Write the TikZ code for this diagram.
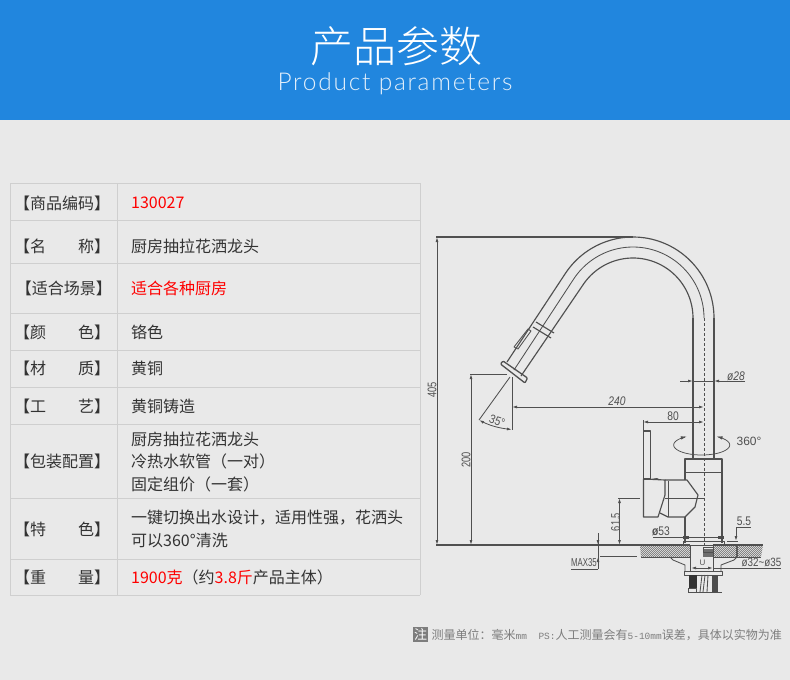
\documentclass[tikz,border=0pt]{standalone}
\usepackage{fontspec}
\usetikzlibrary{arrows.meta}
\setmainfont{Liberation Sans}
\newfontfamily\cjk{Noto Sans CJK SC}
\newfontfamily\cjklight[UprightFont=* Light]{Noto Sans CJK SC}
\newfontfamily\latlight[LetterSpace=7]{Lato Light}
\newfontfamily\mono{Liberation Mono}
\newcommand{\fsz}[1]{\fontsize{#1pt}{#1pt}\selectfont}
\definecolor{pagebg}{RGB}{233,233,233}
\definecolor{headblue}{RGB}{33,134,222}
\definecolor{rule}{RGB}{207,207,207}
\definecolor{ink}{RGB}{51,51,51}
\definecolor{cad}{RGB}{80,80,80}
\definecolor{hatchc}{RGB}{110,110,110}
\definecolor{redt}{RGB}{255,0,0}
\definecolor{note}{RGB}{125,125,125}
\tikzset{
 x=1pt,y=-1pt,
 tline/.style={draw=rule,line width=1pt},
 lab/.style={inner sep=0,text=ink,font=\cjk\fsz{16},anchor=center},
 val/.style={inner sep=0,text=ink,font=\cjk\fsz{16},anchor=west},
 part/.style={draw=cad,line width=0.85pt,line join=round},
 thick part/.style={draw=cad,line width=1.15pt,line join=round},
 dim/.style={draw=cad,line width=0.8pt},
 dimtip/.style={draw=cad,line width=0.8pt,{Latex[length=5pt,width=2.8pt]}-{Latex[length=5pt,width=2.8pt]}},
 endtip/.style={draw=cad,line width=0.8pt,-{Latex[length=5pt,width=2.8pt]}},
 cadtxt/.style={inner sep=0,text=cad,font=\itshape\fsz{12.5},xscale=0.82},
 cadup/.style={inner sep=0,text=cad,font=\fsz{12.5},xscale=0.82},
 cadrot/.style={inner sep=0,text=cad,font=\fsz{12.5},rotate=90,xscale=0.74},
}
\newcommand{\spreadlab}[2]{\makebox[96pt]{#1\hfill #2}}
\begin{document}
\begin{tikzpicture}
\fill[pagebg] (0,0) rectangle (790,680);
\useasboundingbox (0,0) rectangle (790,680);
\fill[headblue] (0,0) rectangle (790,120);
\node[inner sep=0,text=white,font=\cjklight\fsz{43}] (title) at (396,46) {产品参数};
\node[inner sep=0,text=white!88!headblue,font=\latlight\fsz{24.5}] (subtitle) at (395,84) {Product parameters};

% table
\foreach \yy in {183,220,263,313,350,387,424,498,559,595}{\draw[tline] (10,\yy) -- (420,\yy);}
\draw[tline] (10,183) -- (10,595);
\draw[tline] (117,183) -- (117,595);
\draw[tline] (420,183) -- (420,595);

\node[lab] (l1) at (62,203) {【商品编码】};
\node[lab] (l2) at (62,246) {\spreadlab{【名}{称】}};
\node[lab] (l3) at (64,288) {【适合场景】};
\node[lab] (l4) at (62,332) {\spreadlab{【颜}{色】}};
\node[lab] (l5) at (62,368) {\spreadlab{【材}{质】}};
\node[lab] (l6) at (62,406) {\spreadlab{【工}{艺】}};
\node[lab] (l7) at (62,461) {【包装配置】};
\node[lab] (l8) at (62,529) {\spreadlab{【特}{色】}};
\node[lab] (l9) at (62,577) {\spreadlab{【重}{量】}};

\node[val,text=redt] (v1) at (131,203) {130027};
\node[val] (v2) at (131,246) {厨房抽拉花洒龙头};
\node[val,text=redt] (v3) at (131,288) {适合各种厨房};
\node[val] (v4) at (131,332) {铬色};
\node[val] (v5) at (131,368) {黄铜};
\node[val] (v6) at (131,406) {黄铜铸造};
\node[val] (v7a) at (131,439) {厨房抽拉花洒龙头};
\node[val] (v7b) at (131,461) {冷热水软管（一对）};
\node[val] (v7c) at (131,484) {固定组价（一套）};
\node[val] (v8a) at (131,518) {一键切换出水设计，适用性强，花洒头};
\node[val] (v8b) at (131,540) {可以360°清洗};
\node[val] (v9) at (131,577) {\textcolor{redt}{1900克}（约\textcolor{redt}{3.8斤}产品主体）};

% spout
\draw[thick part] plot[domain=0:146.6,samples=60] ({633+81*cos(\x)},{318-81*sin(\x)}) -- (507,362);
\draw[thick part] (714,318) -- (714,459);
\draw[part] plot[domain=0:146.6,samples=60] ({633+71*cos(\x)},{318-71*sin(\x)}) -- (514,370);
\draw[thick part] plot[domain=0:146.6,samples=60] ({633+60*cos(\x)},{318-60*sin(\x)}) -- (521,376);
\draw[thick part] (693,318) -- (693,459);
% collar, switch, head
\draw[thick part] (536,322) -- (554,333);
\draw[thick part] (533,327) -- (551,338);
\draw[part] (528,329) -- (531,331) -- (518,349) -- (514,347) -- cycle;
\draw[thick part,rounded corners=1pt,line width=1.3pt] (500.5,364) -- (503,361) -- (527.5,378) -- (525,383) -- cycle;
% centre line
\draw[draw=cad,line width=0.7pt,densely dashed] (704,318) -- (704,547);
% 405
\draw[thick part] (436,237) -- (633,237);
\draw[thick part] (436,545) -- (638,545);
\draw[dimtip] (437,237) -- (437,545);
\node[cadrot] (d405) at (432,390) {405};
% 200
\draw[dim] (470,374) -- (507,374);
\draw[dimtip] (471,374) -- (471,545);
\node[cadrot] (d200) at (466,460) {200};
% 240
\draw[part] (512,377) -- (512,430);
\draw[dimtip] (512,407) -- (704,407);
\node[cadtxt] (d240) at (617,401) {240};
% 35 deg
\draw[part] (510,377) -- (479,420);
\draw[dimtip] plot[domain=0:1,samples=12] ({(1-\x)*(1-\x)*479+2*\x*(1-\x)*493+\x*\x*512},{(1-\x)*(1-\x)*420+2*\x*(1-\x)*428+\x*\x*429.5});
\node[cadtxt,rotate=-15] (d35) at (497,421) {35°};
% phi 28
\draw[endtip] (680,381) -- (693,381);
\draw[dim] (693,381) -- (714,381);
\draw[endtip] (745,381) -- (714,381);
\node[cadtxt] (d28) at (736,376) {ø28};
% 80
\draw[dim] (643,420) -- (643,431);
\draw[dimtip] (643,422) -- (704,422);
\node[cadup] (d80) at (673,416.5) {80};
% rotation
\draw[draw=cad,line width=0.75pt,{Latex[length=6pt,width=3.5pt]}-{Latex[length=6pt,width=3.5pt]}] plot[domain=122:418,samples=60] ({701.7+28*cos(\x)},{445-10*sin(\x)});
\node[inner sep=0,text=cad,font=\fsz{12}] (d360) at (749,441) {360°};
% handle and body
\draw[thick part] (643.5,431) -- (650.5,431) -- (650.5,479) -- (643.5,479) -- cycle;
\fill[cad] (651,479) -- (657,478) -- (660,479.5) -- cycle;
\draw[thick part] (643.5,479) -- (665,480) -- (665,495) -- (658,517) -- (643.5,517) -- cycle;
\draw[thick part] (665,480) -- (687,480) -- (698,495) -- (695,507) -- (685,517) -- (668,517) -- (660,513);
\draw[part] (668,481) -- (668,517);
\draw[thick part] (685,480) -- (685,459) -- (722,459) -- (722,543);
\draw[thick part] (685,517) -- (685,543);
\draw[part] (685,472) -- (722,472);
% 61.5
\draw[dim] (618,498) -- (640,498);
\draw[dim] (665,498) -- (704,498);
\draw[dimtip] (619.5,498) -- (619.5,545);
\node[cadrot] (d615) at (615.5,522) {61.5};
% phi 53
\draw[dim] (653,537) -- (722,537);
\fill[black!70] (683,536) rectangle (689,538.5);
\fill[black!70] (718,536) rectangle (724,538.5);
\node[cadup] (d53) at (661,531) {\textbf{ø}53};
% base
\draw[part] (683,541) rectangle (724,545);
% 5.5
\draw[dim] (736,527) -- (751,527);
\draw[endtip] (736,527) -- (736,541);
\draw[dim] (727,541) -- (738,541);
\draw[thick part] (737,545) -- (737,557);
\node[cadup] (d55) at (744,521.5) {5.5};
% counter hatch
\begin{scope}
\clip (640,545.5) -- (690,545.5) -- (690,557) -- (641,557) -- cycle (713,545.5) -- (763,545.5) -- (761,557) -- (713,557) -- cycle;
\foreach \hx in {620,622,...,770}{\draw[hatchc,line width=0.55pt] (\hx,545) -- (\hx+13,558);}
\end{scope}
\draw[thick part] (638,545) -- (690,545);
\draw[thick part] (713,545) -- (763,545);
\draw[part] (641,557) -- (690,557);
\draw[part] (713,557) -- (761,557);
% MAX 35
\draw[dim] (598,533) -- (598,569);
\draw[endtip] (598,536) -- (598,545);
\draw[endtip] (598,566) -- (598,557);
\draw[dim] (600,556.5) -- (637,556.5);
\draw[dim] (571,569) -- (598,569);
\node[inner sep=0,text=cad,font=\fsz{11.5},xscale=0.68] (dmax) at (584,563) {MAX35};
% under-counter parts
\draw[part] (670,557) -- (673,560) -- (685,565) -- (685,571);
\draw[part] (737,557) -- (734,560) -- (721,565) -- (721,571);
\draw[part] (690.5,545) -- (690.5,571);
\draw[part] (713,545) -- (713,571);
\draw[part] (684,571) rectangle (722,575);
\fill[hatchc] (703,549) rectangle (713,557);
\draw[part] (703,547) rectangle (713,552);
\draw[dimtip] (691,568) -- (713,568);
\node[inner sep=0,text=cad,font=\fsz{8}] (dU) at (702.5,563) {U};
\fill[black!80] (689,575) rectangle (697,588);
\fill[black!70] (712,575) rectangle (718,592);
\draw[part] (688.5,588) rectangle (696,592.5);
\draw[part] (702,575) -- (700,592);
\draw[part] (705,575) -- (703,592);
\draw[part] (708,575) -- (707,592);
\draw[part] (688,592) -- (722,592);
% phi 32
\draw[dim] (713,568) -- (781,568);
\node[inner sep=0,text=cad,font=\fsz{12},xscale=0.82] (d32) at (761.5,562.5) {ø32\textasciitilde ø35};
% footer
\fill[note] (413,627) rectangle (428,642);
\node[inner sep=0,text=white,font=\cjk\fsz{13}] (nt) at (420.5,634.5) {注};
\node[inner sep=0,anchor=west,text=note,font=\cjk\fsz{12}] (foot) at (431.5,635)
 {测量单位：毫米{\mono\fsz{9.5}mm\ \ PS:}人工测量会有{\mono\fsz{9.5}5-10mm}误差，具体以实物为准};
\end{tikzpicture}
\end{document}
